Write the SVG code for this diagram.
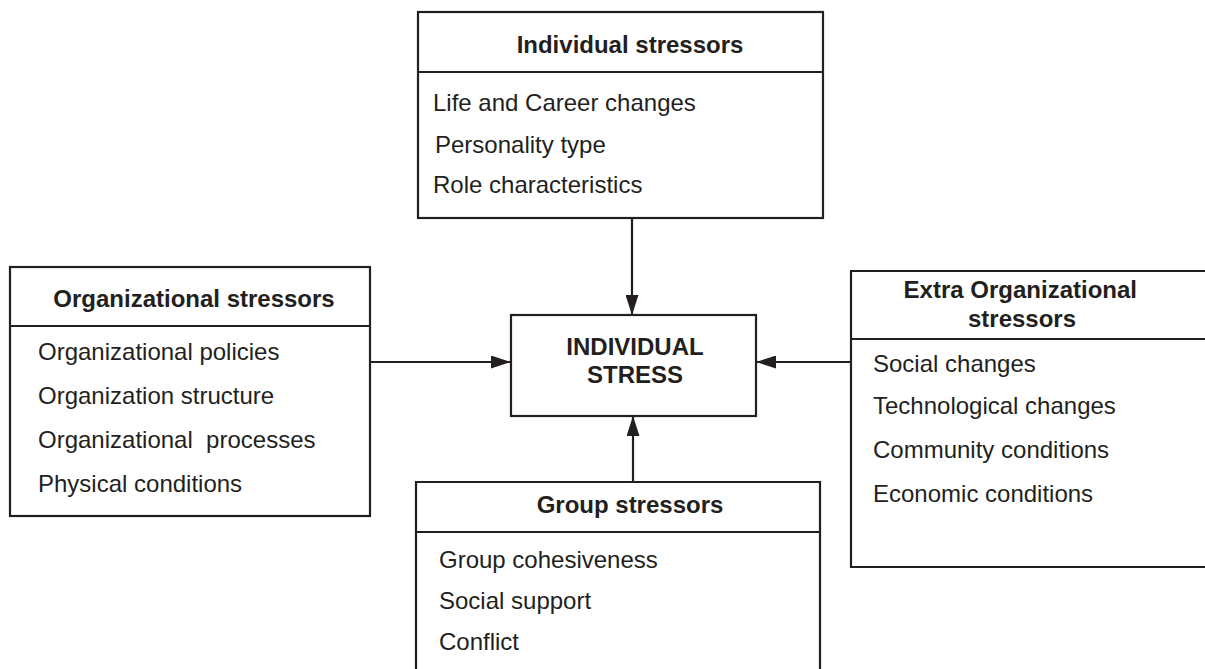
<svg xmlns="http://www.w3.org/2000/svg" width="1205" height="669" viewBox="0 0 1205 669">
  <defs>
    <style>
      .box { fill: #ffffff; stroke: #231f20; stroke-width: 2.2; }
      .sep { stroke: #231f20; stroke-width: 2.2; fill: none; }
      .conn { stroke: #231f20; stroke-width: 2.2; fill: none; }
      .head { font-family: "Liberation Sans", Arial, sans-serif; font-weight: bold; font-size: 24px; fill: #231f20; text-anchor: middle; }
      .item { font-family: "Liberation Sans", Arial, sans-serif; font-size: 24px; fill: #231f20; }
    </style>
    <marker id="arrow" viewBox="0 0 20 13" refX="20" refY="6.5" markerWidth="20" markerHeight="13" markerUnits="userSpaceOnUse" orient="auto">
      <path d="M0,0 L20,6.5 L0,13 Z" fill="#231f20"/>
    </marker>
  </defs>

  <rect width="1205" height="669" fill="#ffffff"/>

  <!-- connectors -->
  <g id="connectors">
    <line class="conn" x1="632" y1="218" x2="632" y2="315" marker-end="url(#arrow)"/>
    <line class="conn" x1="370" y1="362" x2="511" y2="362" marker-end="url(#arrow)"/>
    <line class="conn" x1="851" y1="362" x2="756" y2="362" marker-end="url(#arrow)"/>
    <line class="conn" x1="633" y1="482" x2="633" y2="416" marker-end="url(#arrow)"/>
  </g>

  <!-- individual stressors -->
  <g id="individual-stressors">
    <rect class="box" x="418" y="12" width="405" height="206"/>
    <line class="sep" x1="418" y1="72" x2="823" y2="72"/>
    <text class="head" x="630" y="53">Individual stressors</text>
    <text class="item" x="433" y="111">Life and Career changes</text>
    <text class="item" x="435" y="153">Personality type</text>
    <text class="item" x="433" y="193">Role characteristics</text>
  </g>

  <!-- organizational stressors -->
  <g id="organizational-stressors">
    <rect class="box" x="10" y="267" width="360" height="249"/>
    <line class="sep" x1="10" y1="326" x2="370" y2="326"/>
    <text class="head" x="194" y="307">Organizational stressors</text>
    <text class="item" x="38" y="360">Organizational policies</text>
    <text class="item" x="38" y="404">Organization structure</text>
    <text class="item" x="38" y="448" xml:space="preserve">Organizational  processes</text>
    <text class="item" x="38" y="492">Physical conditions</text>
  </g>

  <!-- individual stress (centre) -->
  <g id="individual-stress">
    <rect class="box" x="511" y="315" width="245" height="101"/>
    <text class="head" x="635" y="355">INDIVIDUAL</text>
    <text class="head" x="635" y="383">STRESS</text>
  </g>

  <!-- extra organizational stressors -->
  <g id="extra-organizational-stressors">
    <path class="box" d="M1206,271 L851,271 L851,567 L1206,567"/>
    <line class="sep" x1="851" y1="339" x2="1206" y2="339"/>
    <text class="head" x="1137" y="298" style="text-anchor:end">Extra Organizational</text>
    <text class="head" x="1022" y="327">stressors</text>
    <text class="item" x="873" y="372">Social changes</text>
    <text class="item" x="873" y="414">Technological changes</text>
    <text class="item" x="873" y="458">Community conditions</text>
    <text class="item" x="873" y="502">Economic conditions</text>
  </g>

  <!-- group stressors -->
  <g id="group-stressors">
    <path class="box" d="M416,670 L416,482 L820,482 L820,670"/>
    <line class="sep" x1="416" y1="532" x2="820" y2="532"/>
    <text class="head" x="630" y="513">Group stressors</text>
    <text class="item" x="439" y="568">Group cohesiveness</text>
    <text class="item" x="439" y="609">Social support</text>
    <text class="item" x="439" y="650">Conflict</text>
  </g>
</svg>
